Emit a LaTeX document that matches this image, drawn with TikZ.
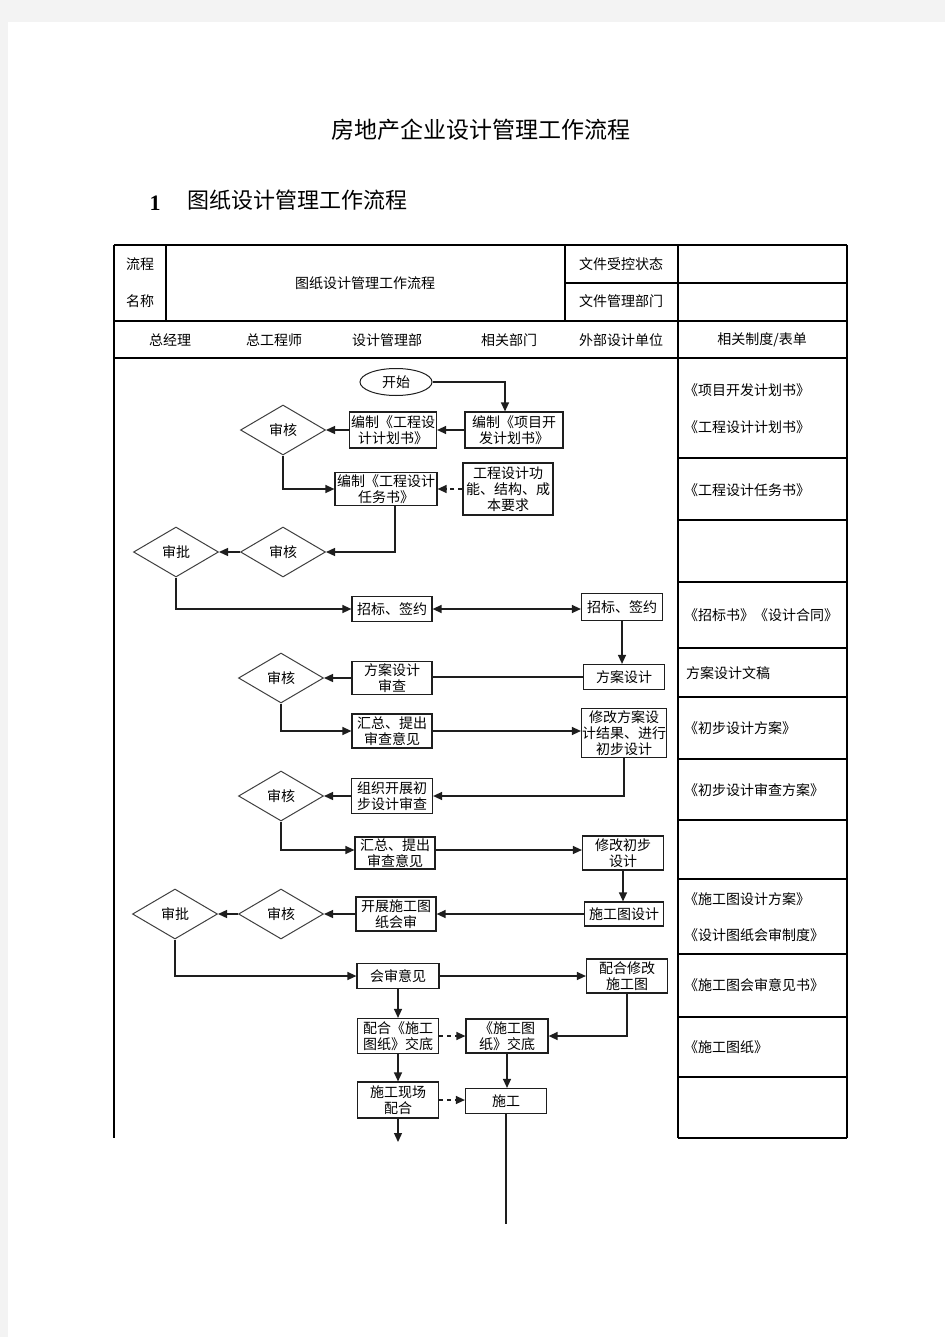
\documentclass[tikz,border=0pt]{standalone}
\usepackage{fontspec}
\newfontfamily\cjk{Noto Sans CJK SC}
\newfontfamily\tnr{Liberation Serif}
\usetikzlibrary{arrows.meta,shapes.geometric}
\definecolor{pagegray}{HTML}{F3F3F3}
\definecolor{ink}{HTML}{1E1E1E}
\begin{document}
\begin{tikzpicture}[x=1pt,y=-1pt,
  txt/.style={font=\cjk\fontsize{14}{16}\selectfont, inner sep=0pt},
  box/.style={draw=ink, line width=1.2pt, inner sep=0pt, align=center, fill=white,
    font=\cjk\fontsize{14}{16}\selectfont},
  wh/.style 2 args={minimum width=#1pt, minimum height=#2pt},
  dia/.style={draw=ink!85, line width=1pt, diamond, aspect=1.7, inner sep=0pt,
    minimum width=85pt, minimum height=50pt, fill=white, font=\cjk\fontsize{14}{16}\selectfont},
  arr/.style={draw=ink, line width=1.3pt, -{Triangle[length=9pt,width=8pt]}},
  darr/.style={draw=ink, line width=1.3pt, {Triangle[length=9pt,width=8pt]}-{Triangle[length=9pt,width=8pt]}},
  dsh/.style={draw=ink, line width=1.3pt, dash pattern=on 4pt off 4pt, -{Triangle[length=9pt,width=8pt]}},
  ln/.style={draw=ink, line width=1.3pt},
  tline/.style={draw=black, line width=1.1pt},
  rtext/.style={txt, anchor=west}
]
\useasboundingbox (0,0) rectangle (945,1337);
\fill[pagegray] (0,0) rectangle (945,1337);
\fill[white] (8,22) rectangle (945,1337);

% titles
\node[inner sep=0pt, font=\cjk\fontsize{23}{26}\selectfont] (title) at (481,130) {房地产企业设计管理工作流程};
\node[inner sep=0pt, font=\tnr\bfseries\fontsize{22}{24}\selectfont] (secnum) at (155,203) {1};
\node[inner sep=0pt, font=\cjk\fontsize{22}{24}\selectfont] (sectitle) at (297,200) {图纸设计管理工作流程};

% table frame
\draw[tline] (114,245) -- (847,245);
\draw[tline] (114,245) -- (114,1138);
\draw[tline] (847,245) -- (847,1138);
\draw[tline] (114,321) -- (847,321);
\draw[tline] (114,358) -- (847,358);
\draw[tline] (166,245) -- (166,321);
\draw[tline] (565,245) -- (565,321);
\draw[tline] (565,283) -- (847,283);
\draw[tline] (678,245) -- (678,1138);
\foreach \yy in {458,520,582,648,697,759,820,879,954,1017,1077,1138}
  \draw[tline] (678,\yy) -- (847,\yy);

% header texts
\node[txt] (hA) at (140,264) {流程};
\node[txt] (hB) at (140,301) {名称};
\node[txt] (hC) at (365,283) {图纸设计管理工作流程};
\node[txt] (hD) at (621,264) {文件受控状态};
\node[txt] (hE) at (621,301) {文件管理部门};
\node[txt] (l1) at (170,340) {总经理};
\node[txt] (l2) at (274,340) {总工程师};
\node[txt] (l3) at (387,340) {设计管理部};
\node[txt] (l4) at (509,340) {相关部门};
\node[txt] (l5) at (621,340) {外部设计单位};
\node[txt] (l6) at (762,340) {相关制度/表单};

% right column texts
\node[rtext] (r01) at (684,390) {《项目开发计划书》};
\node[rtext] (r02) at (684,427) {《工程设计计划书》};
\node[rtext] (r03) at (684,490) {《工程设计任务书》};
\node[rtext] (r04) at (684,615) {《招标书》《设计合同》};
\node[rtext] (r05) at (686,673) {方案设计文稿};
\node[rtext] (r06) at (684,728) {《初步设计方案》};
\node[rtext] (r07) at (684,790) {《初步设计审查方案》};
\node[rtext] (r08) at (684,899) {《施工图设计方案》};
\node[rtext] (r09) at (684,935) {《设计图纸会审制度》};
\node[rtext] (r10) at (684,985) {《施工图会审意见书》};
\node[rtext] (r11) at (684,1047) {《施工图纸》};

% flow nodes
\node[ellipse, draw=ink, line width=1pt, minimum width=72pt, minimum height=27pt, inner sep=0pt,
  font=\cjk\fontsize{14}{16}\selectfont] (start) at (396,382) {开始};
\node[box, wh={98}{36}] (p1) at (514,430) {编制《项目开\\发计划书》};
\node[box, wh={87}{36}] (p2) at (393,430) {编制《工程设\\计计划书》};
\node[dia] (d1) at (283,430) {审核};
\node[box, wh={102}{33}] (t1) at (386,489) {编制《工程设计\\任务书》};
\node[box, wh={90}{52}] (r1) at (508,489) {工程设计功\\能、结构、成\\本要求};
\node[dia] (d2) at (283,552) {审核};
\node[dia] (a1) at (176,552) {审批};
\node[box, wh={80}{25}] (z1) at (392,609) {招标、签约};
\node[box, wh={81}{27}] (z2) at (622,607) {招标、签约};
\node[box, wh={81}{25}] (f1) at (624,677) {方案设计};
\node[box, wh={80}{33}] (f2) at (392,678) {方案设计\\审查};
\node[dia] (d3) at (281,678) {审核};
\node[box, wh={80}{34}] (h1) at (392,731) {汇总、提出\\审查意见};
\node[box, wh={85}{49}] (m1) at (624,733) {修改方案设\\计结果、进行\\初步设计};
\node[box, wh={81}{35}] (o1) at (392,796) {组织开展初\\步设计审查};
\node[dia] (d4) at (281,796) {审核};
\node[box, wh={80}{32}] (h2) at (395,853) {汇总、提出\\审查意见};
\node[box, wh={81}{34}] (m2) at (623,853) {修改初步\\设计};
\node[box, wh={79}{24}] (s1) at (624,914) {施工图设计};
\node[box, wh={80}{34}] (k1) at (396,914) {开展施工图\\纸会审};
\node[dia] (d5) at (281,914) {审核};
\node[dia] (a2) at (175,914) {审批};
\node[box, wh={82}{25}] (y1) at (398,976) {会审意见};
\node[box, wh={81}{34}] (y2) at (627,976) {配合修改\\施工图};
\node[box, wh={81}{35}] (j1) at (398,1036) {配合《施工\\图纸》交底};
\node[box, wh={82}{34}] (j2) at (507,1036) {《施工图\\纸》交底};
\node[box, wh={81}{36}] (c1) at (398,1100) {施工现场\\配合};
\node[box, wh={81}{25}] (c2) at (506,1101) {施工};
\coordinate (e1) at (398,1142);
\coordinate (e2) at (505,1224);

% connectors
\draw[arr] (start.east) -| ([xshift=-9pt]p1.north);
\draw[arr] (p1.west) -- (p2.east);
\draw[arr] (p2.west) -- (d1.east);
\draw[arr] (d1.south) |- (t1.west);
\draw[dsh] (r1.west) -- (t1.east);
\draw[arr] ([xshift=9pt]t1.south) |- (d2.east);
\draw[arr] (d2.west) -- (a1.east);
\draw[arr] (a1.south) |- (z1.west);
\draw[darr] (z1.east) -- (z1.east -| z2.west);
\draw[arr] (z2.south) -- (z2.south |- f1.north);
\draw[ln] (f1.west) -- (f1.west -| f2.east);
\draw[arr] (f2.west) -- (d3.east);
\draw[arr] (d3.south) |- (h1.west);
\draw[arr] (h1.east) -- (h1.east -| m1.west);
\draw[arr] (m1.south) |- (o1.east);
\draw[arr] (o1.west) -- (d4.east);
\draw[arr] (d4.south) |- ([yshift=3pt]h2.west);
\draw[arr] ([yshift=3pt]h2.east) -- ([yshift=3pt]h2.east -| m2.west);
\draw[arr] (m2.south) -- (m2.south |- s1.north);
\draw[arr] (s1.west) -- (s1.west -| k1.east);
\draw[arr] (k1.west) -- (d5.east);
\draw[arr] (d5.west) -- (a2.east);
\draw[arr] (a2.south) |- (y1.west);
\draw[arr] (y1.east) -- (y1.east -| y2.west);
\draw[arr] (y1.south) -- (j1.north);
\draw[arr] (y2.south) |- (j2.east);
\draw[dsh] (j1.east) -- (j2.west);
\draw[arr] (j1.south) -- (c1.north);
\draw[arr] (j2.south) -- (j2.south |- c2.north);
\draw[dsh] (c1.east) -- (c1.east -| c2.west);
\draw[arr] (c1.south) -- (e1);
\draw[ln] (c2.south) -- (c2.south |- e2);
\end{tikzpicture}
\end{document}
